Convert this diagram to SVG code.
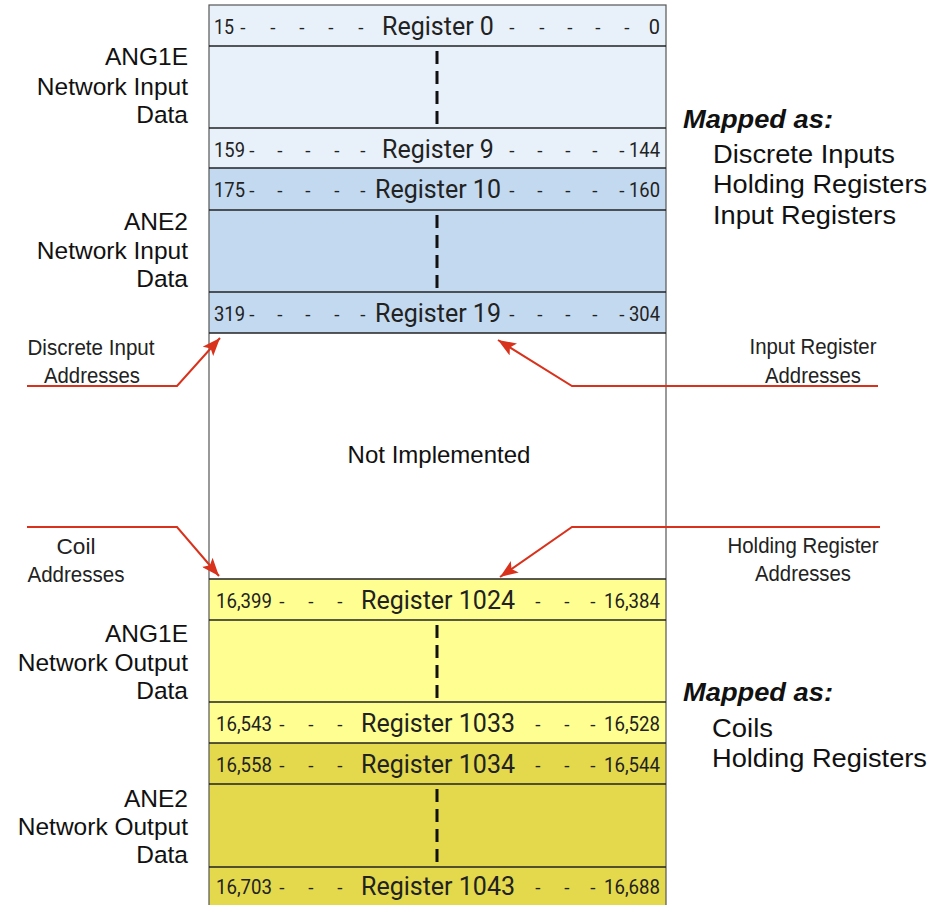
<svg xmlns="http://www.w3.org/2000/svg" width="932" height="905" viewBox="0 0 932 905">
<defs>
<style>
.sep{stroke:#222;stroke-width:1.5}
.reg{font-family:Roboto,"Liberation Sans",sans-serif;font-size:25px;fill:#222;text-anchor:middle}
.num{font-family:Roboto,"Liberation Sans",sans-serif;font-size:20px;fill:#222}
.d{font-family:Roboto,"Liberation Sans",sans-serif;font-size:19px;fill:#222;text-anchor:middle}
.ctr{stroke:#111;stroke-width:3;stroke-dasharray:13 7}
.lbl{font-family:"Liberation Sans",Arial,sans-serif;font-size:24.5px;fill:#111;text-anchor:end}
.map{font-family:"Liberation Sans",Arial,sans-serif;font-size:25px;fill:#111;font-weight:bold;font-style:italic}
.item{font-family:"Liberation Sans",Arial,sans-serif;font-size:25px;fill:#111}
.ann{font-family:"Liberation Sans",Arial,sans-serif;font-size:22px;fill:#222;text-anchor:middle}
.red{fill:none;stroke:#D9321C;stroke-width:2}
</style>
<marker id="ah" markerUnits="userSpaceOnUse" markerWidth="20" markerHeight="14" refX="18" refY="7" orient="auto">
<path d="M0,0 L18,7 L0,14 L4,7 z" fill="#D9321C"/>
</marker>
</defs>

<g id="box">
<rect x="209" y="5" width="457" height="163" fill="#E8F1FA"/>
<rect x="209" y="168" width="457" height="165" fill="#C3D9EF"/>
<rect x="209" y="333" width="457" height="246" fill="#FFFFFF"/>
<rect x="209" y="579" width="457" height="164" fill="#FFFF91"/>
<rect x="209" y="743" width="457" height="162" fill="#E4D94C"/>
<rect x="209" y="5" width="457" height="905" fill="none" stroke="#555" stroke-width="1.2"/>
<line class="sep" x1="209" y1="46" x2="666" y2="46"/>
<line class="sep" x1="209" y1="128" x2="666" y2="128"/>
<line class="sep" x1="209" y1="168" x2="666" y2="168"/>
<line class="sep" x1="209" y1="210" x2="666" y2="210"/>
<line class="sep" x1="209" y1="292" x2="666" y2="292"/>
<line class="sep" x1="209" y1="333" x2="666" y2="333"/>
<line class="sep" x1="209" y1="579" x2="666" y2="579"/>
<line class="sep" x1="209" y1="620" x2="666" y2="620"/>
<line class="sep" x1="209" y1="702" x2="666" y2="702"/>
<line class="sep" x1="209" y1="743" x2="666" y2="743"/>
<line class="sep" x1="209" y1="784" x2="666" y2="784"/>
<line class="sep" x1="209" y1="867" x2="666" y2="867"/>
<line class="ctr" x1="437" y1="51" x2="437" y2="124"/>
<line class="ctr" x1="437" y1="215" x2="437" y2="288"/>
<line class="ctr" x1="437" y1="625" x2="437" y2="698"/>
<line class="ctr" x1="437" y1="789" x2="437" y2="862"/>
</g>

<g id="reg0">
<text class="num" x="214" y="34" textLength="20" lengthAdjust="spacingAndGlyphs">15</text>
<text class="d" y="34"><tspan x="243">-</tspan><tspan x="273">-</tspan><tspan x="302">-</tspan><tspan x="331">-</tspan><tspan x="361">-</tspan><tspan x="512">-</tspan><tspan x="542">-</tspan><tspan x="570">-</tspan><tspan x="598">-</tspan><tspan x="627">-</tspan></text>
<text class="reg" x="438" y="35">Register 0</text>
<text class="num" x="660" y="34" text-anchor="end">0</text>
</g>
<g id="reg9">
<text class="num" x="214" y="157" textLength="31" lengthAdjust="spacingAndGlyphs">159</text>
<text class="d" y="157"><tspan x="252">-</tspan><tspan x="280">-</tspan><tspan x="308">-</tspan><tspan x="337">-</tspan><tspan x="363">-</tspan><tspan x="512">-</tspan><tspan x="540">-</tspan><tspan x="568">-</tspan><tspan x="595">-</tspan><tspan x="622">-</tspan></text>
<text class="reg" x="438" y="158">Register 9</text>
<text class="num" x="629" y="157" textLength="31" lengthAdjust="spacingAndGlyphs">144</text>
</g>
<g id="reg10">
<text class="num" x="214" y="197" textLength="31" lengthAdjust="spacingAndGlyphs">175</text>
<text class="d" y="197"><tspan x="252">-</tspan><tspan x="280">-</tspan><tspan x="308">-</tspan><tspan x="337">-</tspan><tspan x="363">-</tspan><tspan x="512">-</tspan><tspan x="540">-</tspan><tspan x="568">-</tspan><tspan x="595">-</tspan><tspan x="622">-</tspan></text>
<text class="reg" x="438" y="198">Register 10</text>
<text class="num" x="629" y="197" textLength="31" lengthAdjust="spacingAndGlyphs">160</text>
</g>
<g id="reg19">
<text class="num" x="214" y="321" textLength="31" lengthAdjust="spacingAndGlyphs">319</text>
<text class="d" y="321"><tspan x="252">-</tspan><tspan x="280">-</tspan><tspan x="308">-</tspan><tspan x="337">-</tspan><tspan x="363">-</tspan><tspan x="512">-</tspan><tspan x="540">-</tspan><tspan x="568">-</tspan><tspan x="595">-</tspan><tspan x="622">-</tspan></text>
<text class="reg" x="438" y="322">Register 19</text>
<text class="num" x="629" y="321" textLength="31" lengthAdjust="spacingAndGlyphs">304</text>
</g>
<g id="notimpl">
<text class="item" x="439" y="463" text-anchor="middle" style="font-size:24px">Not Implemented</text>
</g>
<g id="reg1024">
<text class="num" x="216" y="608" textLength="56" lengthAdjust="spacingAndGlyphs">16,399</text>
<text class="d" y="608"><tspan x="282">-</tspan><tspan x="311">-</tspan><tspan x="340">-</tspan><tspan x="538">-</tspan><tspan x="567">-</tspan><tspan x="593">-</tspan></text>
<text class="reg" x="438" y="609">Register 1024</text>
<text class="num" x="604" y="608" textLength="56" lengthAdjust="spacingAndGlyphs">16,384</text>
</g>
<g id="reg1033">
<text class="num" x="216" y="731" textLength="56" lengthAdjust="spacingAndGlyphs">16,543</text>
<text class="d" y="731"><tspan x="282">-</tspan><tspan x="311">-</tspan><tspan x="340">-</tspan><tspan x="538">-</tspan><tspan x="567">-</tspan><tspan x="593">-</tspan></text>
<text class="reg" x="438" y="732">Register 1033</text>
<text class="num" x="604" y="731" textLength="56" lengthAdjust="spacingAndGlyphs">16,528</text>
</g>
<g id="reg1034">
<text class="num" x="216" y="772" textLength="56" lengthAdjust="spacingAndGlyphs">16,558</text>
<text class="d" y="772"><tspan x="282">-</tspan><tspan x="311">-</tspan><tspan x="340">-</tspan><tspan x="538">-</tspan><tspan x="567">-</tspan><tspan x="593">-</tspan></text>
<text class="reg" x="438" y="773">Register 1034</text>
<text class="num" x="604" y="772" textLength="56" lengthAdjust="spacingAndGlyphs">16,544</text>
</g>
<g id="reg1043">
<text class="num" x="216" y="894" textLength="56" lengthAdjust="spacingAndGlyphs">16,703</text>
<text class="d" y="894"><tspan x="282">-</tspan><tspan x="311">-</tspan><tspan x="340">-</tspan><tspan x="538">-</tspan><tspan x="567">-</tspan><tspan x="593">-</tspan></text>
<text class="reg" x="438" y="895">Register 1043</text>
<text class="num" x="604" y="894" textLength="56" lengthAdjust="spacingAndGlyphs">16,688</text>
</g>

<g id="labels">
<text class="lbl" x="188" y="65">ANG1E</text>
<text class="lbl" x="188" y="95">Network Input</text>
<text class="lbl" x="188" y="123">Data</text>
<text class="lbl" x="188" y="230">ANE2</text>
<text class="lbl" x="188" y="259">Network Input</text>
<text class="lbl" x="188" y="287">Data</text>
<text class="lbl" x="188" y="642">ANG1E</text>
<text class="lbl" x="188" y="671">Network Output</text>
<text class="lbl" x="188" y="699">Data</text>
<text class="lbl" x="188" y="807">ANE2</text>
<text class="lbl" x="188" y="835">Network Output</text>
<text class="lbl" x="188" y="863">Data</text>
</g>

<g id="mapped-in">
<text class="map" x="683" y="128" textLength="150" lengthAdjust="spacingAndGlyphs">Mapped as:</text>
<text class="item" x="713" y="163" textLength="182" lengthAdjust="spacingAndGlyphs">Discrete Inputs</text>
<text class="item" x="713" y="193" textLength="214" lengthAdjust="spacingAndGlyphs">Holding Registers</text>
<text class="item" x="713" y="224" textLength="183" lengthAdjust="spacingAndGlyphs">Input Registers</text>
</g>
<g id="mapped-out">
<text class="map" x="683" y="701" textLength="150" lengthAdjust="spacingAndGlyphs">Mapped as:</text>
<text class="item" x="712" y="737" textLength="61" lengthAdjust="spacingAndGlyphs">Coils</text>
<text class="item" x="712" y="767" textLength="215" lengthAdjust="spacingAndGlyphs">Holding Registers</text>
</g>

<g id="annotations">
<text class="ann" x="91" y="355" textLength="127" lengthAdjust="spacingAndGlyphs">Discrete Input</text>
<text class="ann" x="92" y="383" textLength="96" lengthAdjust="spacingAndGlyphs">Addresses</text>
<text class="ann" x="813" y="354" textLength="127" lengthAdjust="spacingAndGlyphs">Input Register</text>
<text class="ann" x="813" y="383" textLength="96" lengthAdjust="spacingAndGlyphs">Addresses</text>
<text class="ann" x="76" y="554" textLength="39" lengthAdjust="spacingAndGlyphs">Coil</text>
<text class="ann" x="76" y="582" textLength="97" lengthAdjust="spacingAndGlyphs">Addresses</text>
<text class="ann" x="803" y="553" textLength="151" lengthAdjust="spacingAndGlyphs">Holding Register</text>
<text class="ann" x="803" y="581" textLength="96" lengthAdjust="spacingAndGlyphs">Addresses</text>
</g>

<g id="connectors">
<polyline class="red" points="27,386 177,386 220,338" marker-end="url(#ah)"/>
<polyline class="red" points="878,386 572,386 498,340" marker-end="url(#ah)"/>
<polyline class="red" points="27,527 177,527 219,576" marker-end="url(#ah)"/>
<polyline class="red" points="880,527 572,527 500,577" marker-end="url(#ah)"/>
</g>
</svg>
